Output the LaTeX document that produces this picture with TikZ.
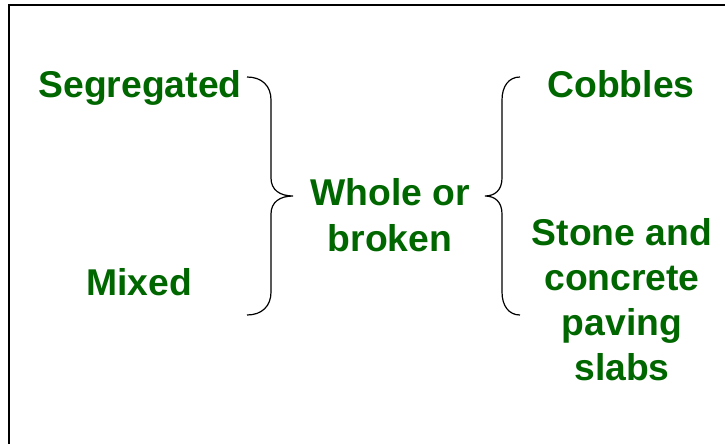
\documentclass[tikz,border=0pt]{standalone}
\usepackage{fontspec}
\setmainfont{Liberation Sans}
\definecolor{leafgreen}{RGB}{0,102,0}
\begin{document}
\begin{tikzpicture}[x=1pt,y=-1pt,
  label/.style={font=\fontsize{37.3}{46}\selectfont\bfseries, text=leafgreen,
                inner sep=0pt, align=center, anchor=base},
  bracket/.style={draw=black, line width=1.2pt},
  frame/.style={draw=black, line width=2pt}]
  \useasboundingbox (0,0) rectangle (725,444);
  % frame edges
  \draw[frame] (8.5,444) -- (8.5,5.5) -- (725,5.5);

  % labels (multi-line labels sit on the baseline of their last line)
  \node[label] (seg) at (140,97) {Segregated};
  \node[label] (mix) at (139,295) {Mixed};
  \node[label] (whole) at (390,251) {Whole or\\broken};
  \node[label, font=\fontsize{37.3}{45}\selectfont\bfseries] (stone) at (622,380)
    {Stone and\\concrete\\paving\\slabs};
  \node[label] (cob) at (621,97) {Cobbles};

  % left brace, opening towards the left
  \coordinate (lt) at (247,77);
  \coordinate (lb) at (247,315);
  \coordinate (ltip) at (293,196);
  \draw[bracket] (lt) .. controls (262,77) and (271,86) .. (271,100)
    -- (271,178) .. controls (271,190) and (280,196) .. (ltip)
    .. controls (280,196) and (271,202) .. (271,214)
    -- (271,292) .. controls (271,306) and (262,315) .. (lb);

  % right brace, opening towards the right
  \coordinate (rt) at (520,77);
  \coordinate (rb) at (520,315);
  \coordinate (rtip) at (485,196);
  \draw[bracket] (rt) .. controls (509,77) and (502,86) .. (502,100)
    -- (502,178) .. controls (502,190) and (495,196) .. (rtip)
    .. controls (495,196) and (502,202) .. (502,214)
    -- (502,292) .. controls (502,306) and (509,315) .. (rb);
\end{tikzpicture}
\end{document}
